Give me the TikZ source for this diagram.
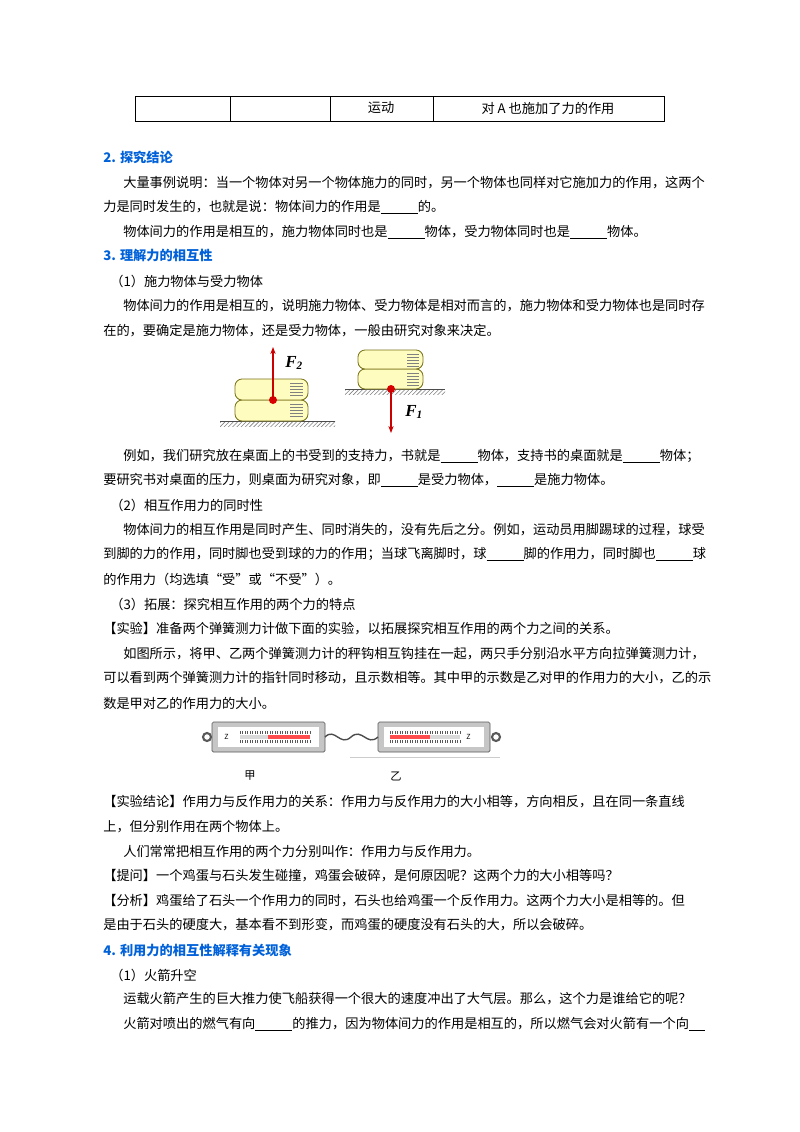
\documentclass[tikz,border=0pt]{standalone}
\usepackage{fontspec}
\setmainfont{Noto Sans CJK SC}
\newfontfamily\serifit{Liberation Serif}
\usetikzlibrary{patterns,arrows.meta}
\newcommand{\blank}{\underline{\hspace{2.8em}}}

\begin{document}
\begin{tikzpicture}[
  x=0.025cm, y=-0.025cm,
  txt/.style={anchor=west, inner sep=0pt, font=\fontsize{9.4pt}{11pt}\selectfont},
  head/.style={txt, text=blue!55!cyan!85!black, font=\fontsize{9.4pt}{11pt}\selectfont\bfseries},
  bookbox/.style={fill=yellow!25, draw=olive!80!black, line width=0.6pt, rounded corners=5pt},
  force/.style={red!80!black, line width=1pt, -{Stealth[length=5pt]}},
  scalebox/.style={fill=gray!45, draw=gray!70!black, rounded corners=1pt},
]
\useasboundingbox (0,0) rectangle (800,1132);

% table row
\draw (135,96) rectangle (664,121);
\foreach \xc in {230,330,433} \draw (\xc,96) -- (\xc,121);
\node [txt, anchor=center] (t1) at (381,108) {运动};
\node [txt, anchor=center] (t2) at (548,108) {对 A 也施加了力的作用};

\node [head] (h2) at (103,157) {2. 探究结论};
\node [txt] (a1) at (123,183) {大量事例说明：当一个物体对另一个物体施力的同时，另一个物体也同样对它施加力的作用，这两个};
\node [txt] (a2) at (103,207) {力是同时发生的，也就是说：物体间力的作用是\blank 的。};
\node [txt] (a3) at (123,232) {物体间力的作用是相互的，施力物体同时也是\blank 物体，受力物体同时也是\blank 物体。};
\node [head] (h3) at (103,256) {3. 理解力的相互性};
\node [txt] (b0) at (110,281) {（1）施力物体与受力物体};
\node [txt] (b1) at (123,306) {物体间力的作用是相互的，说明施力物体、受力物体是相对而言的，施力物体和受力物体也是同时存};
\node [txt] (b2) at (103,331) {在的，要确定是施力物体，还是受力物体，一般由研究对象来决定。};

% books figure (left)
\draw [pattern=north east lines, pattern color=gray, draw=none] (220,421) rectangle (335,426);
\draw [gray!60!black] (220,421) -- (335,421);
\draw [bookbox] (235,400) rectangle (308,421);
\draw [bookbox] (235,379) rectangle (308,400);
\foreach \yy in {383,386,389,392,395,404,407,410,413,416}
  \draw [gray] (290,\yy) -- (303,\yy);
\fill [red!85!black] (273,400) circle [radius=4];
\coordinate (p2) at (273,400);
\coordinate (q2) at (273,347);
\draw [force] (p2) -- (q2);
\node [txt, font=\serifit\bfseries\itshape\large] (f2) at (285,363) {F\textsubscript{2}};

% books figure (right)
\draw [pattern=north east lines, pattern color=gray, draw=none] (345,389) rectangle (445,394);
\draw [gray!60!black] (345,389) -- (445,389);
\draw [bookbox] (358,369) rectangle (423,389);
\draw [bookbox] (358,350) rectangle (423,369);
\foreach \yy in {354,357,360,363,366,373,376,379,382,385}
  \draw [gray] (407,\yy) -- (419,\yy);
\fill [red!85!black] (391,389) circle [radius=4];
\coordinate (p1) at (391,389);
\coordinate (q1) at (391,433);
\draw [force] (p1) -- (q1);
\node [txt, font=\serifit\bfseries\itshape\large] (f1) at (405,412) {F\textsubscript{1}};

\node [txt] (c1) at (123,456) {例如，我们研究放在桌面上的书受到的支持力，书就是\blank 物体，支持书的桌面就是\blank 物体；};
\node [txt] (c2) at (103,480) {要研究书对桌面的压力，则桌面为研究对象，即\blank 是受力物体，\blank 是施力物体。};
\node [txt] (d0) at (110,505) {（2）相互作用力的同时性};
\node [txt] (d1) at (123,530) {物体间力的相互作用是同时产生、同时消失的，没有先后之分。例如，运动员用脚踢球的过程，球受};
\node [txt] (d2) at (103,554) {到脚的力的作用，同时脚也受到球的力的作用；当球飞离脚时，球\blank 脚的作用力，同时脚也\blank 球};
\node [txt] (d3) at (103,579) {的作用力（均选填“受”或“不受”）。};
\node [txt] (e0) at (110,604) {（3）拓展：探究相互作用的两个力的特点};
\node [txt] (e1) at (103,629) {【实验】准备两个弹簧测力计做下面的实验，以拓展探究相互作用的两个力之间的关系。};
\node [txt] (e2) at (123,654) {如图所示，将甲、乙两个弹簧测力计的秤钩相互钩挂在一起，两只手分别沿水平方向拉弹簧测力计，};
\node [txt] (e3) at (103,678) {可以看到两个弹簧测力计的指针同时移动，且示数相等。其中甲的示数是乙对甲的作用力的大小，乙的示};
\node [txt] (e4) at (103,703) {数是甲对乙的作用力的大小。};

% spring scales
\draw [gray!40] (350,757) -- (500,757);
\draw [gray!70!black, line width=1.5pt] (207,737) circle [radius=4];
\draw [gray!70!black, line width=1.5pt] (496,737) circle [radius=4];
\draw [scalebox] (212,722) rectangle (325,752);
\draw [scalebox] (378,722) rectangle (490,752);
\fill [white] (218,727) rectangle (319,747);
\fill [white] (384,727) rectangle (484,747);
\fill [gray!30] (240,735) rectangle (310,739);
\fill [red!70] (268,735) rectangle (310,739);
\fill [gray!30] (390,735) rectangle (460,739);
\fill [red!70] (390,735) rectangle (430,739);
\foreach \xx in {0,...,28} {
  \draw [gray!70!black, line width=0.3pt] (240+2.5*\xx,731) -- (240+2.5*\xx,734);
  \draw [gray!70!black, line width=0.3pt] (240+2.5*\xx,740) -- (240+2.5*\xx,743);
  \draw [gray!70!black, line width=0.3pt] (390+2.5*\xx,731) -- (390+2.5*\xx,734);
  \draw [gray!70!black, line width=0.3pt] (390+2.5*\xx,740) -- (390+2.5*\xx,743);
}
\node [txt, font=\tiny] (z1) at (224,737) {Z};
\node [txt, font=\tiny] (z2) at (466,737) {Z};
\draw [gray!60!black, line width=1pt] (325,737) .. controls (335,727) and (340,747) .. (351,737)
  .. controls (362,727) and (367,747) .. (378,737);
\node [txt, anchor=center, font=\fontsize{8pt}{9pt}\selectfont] (jia) at (250,776) {甲};
\node [txt, anchor=center, font=\fontsize{8pt}{9pt}\selectfont] (yi) at (396,776) {乙};

\node [txt] (g1) at (103,802) {【实验结论】作用力与反作用力的关系：作用力与反作用力的大小相等，方向相反，且在同一条直线};
\node [txt] (g2) at (103,827) {上，但分别作用在两个物体上。};
\node [txt] (g3) at (123,851) {人们常常把相互作用的两个力分别叫作：作用力与反作用力。};
\node [txt] (g4) at (103,876) {【提问】一个鸡蛋与石头发生碰撞，鸡蛋会破碎，是何原因呢？这两个力的大小相等吗？};
\node [txt] (g5) at (103,901) {【分析】鸡蛋给了石头一个作用力的同时，石头也给鸡蛋一个反作用力。这两个力大小是相等的。但};
\node [txt] (g6) at (103,925) {是由于石头的硬度大，基本看不到形变，而鸡蛋的硬度没有石头的大，所以会破碎。};
\node [head] (h4) at (103,950) {4. 利用力的相互性解释有关现象};
\node [txt] (k0) at (110,975) {（1）火箭升空};
\node [txt] (k1) at (123,999) {运载火箭产生的巨大推力使飞船获得一个很大的速度冲出了大气层。那么，这个力是谁给它的呢？};
\node [txt] (k2) at (123,1024) {火箭对喷出的燃气有向\blank 的推力，因为物体间力的作用是相互的，所以燃气会对火箭有一个向\underline{\hspace{1.2em}}};
\end{tikzpicture}
\end{document}
